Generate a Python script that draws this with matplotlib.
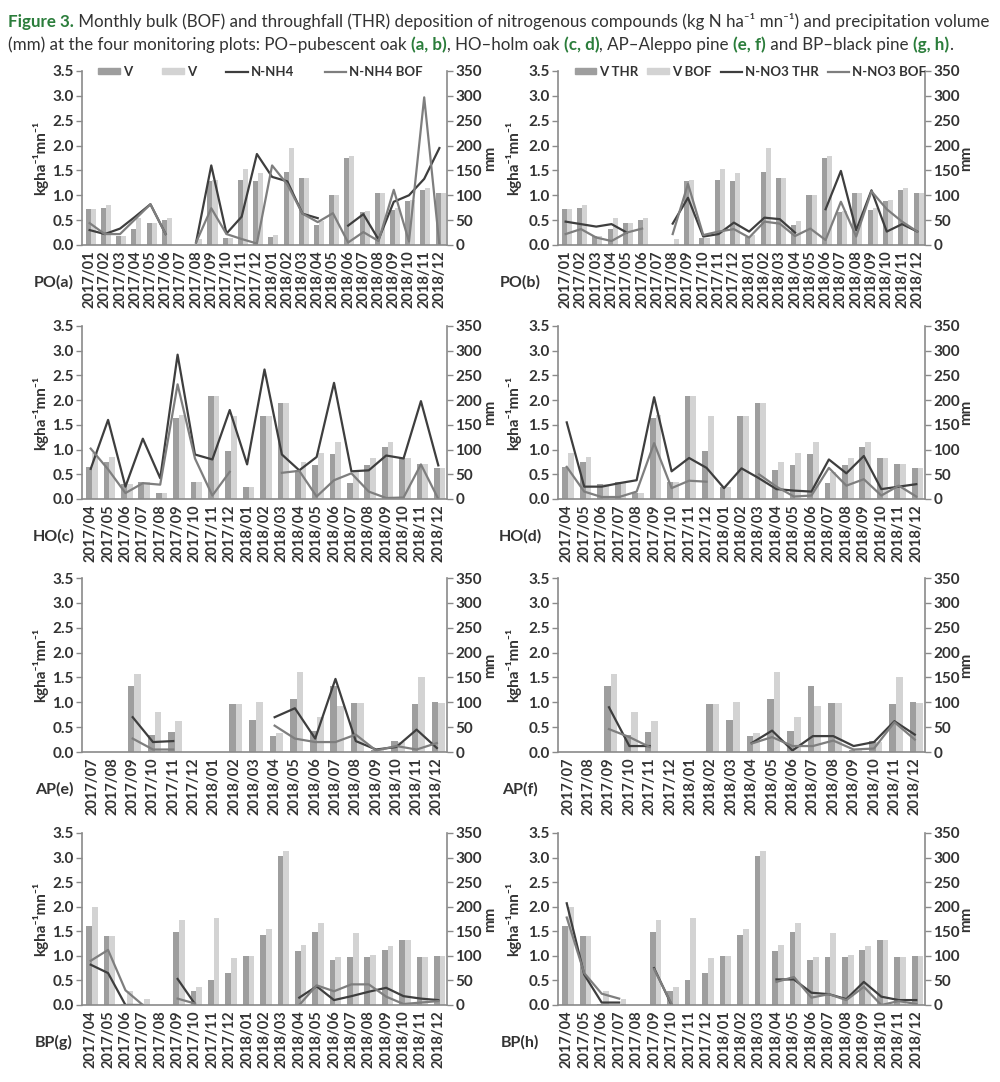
import numpy as np
import matplotlib
matplotlib.use("Agg")
import matplotlib.pyplot as plt
from matplotlib.patches import Patch
from matplotlib.lines import Line2D

nan = np.nan

# Months (tick labels)
months_po = [f"{y}/{m:02d}" for y in (2017, 2018) for m in range(1, 13)]
months_ho = months_po[3:]
months_ap = months_po[6:]
months_bp = months_po[3:]

# Precipitation volume (mm) - THR and BOF
po_v_thr = [72, 74, 18, 32, 45, 50, nan, nan, 129, 15, 130, 128, 17, 146, 135, 41, 101, 176, 66, 104, 70, 89, 110, 104]
po_v_bof = [72, 80, 18, 55, 45, 54, nan, 12, 130, 15, 153, 145, 20, 195, 135, 49, 101, 180, 68, 104, 75, 91, 115, 104]
ho_v_thr = [65, 75, 31, 34, 13, 164, 35, 209, 97, 24, 168, 195, 58, 68, 92, 32, 69, 106, 82, 71, 62]
ho_v_bof = [93, 84, 31, 34, 13, 170, 35, 209, 167, 24, 168, 195, 75, 94, 115, 55, 83, 115, 82, 71, 62]
ap_v_thr = [nan, nan, 132, 35, 40, nan, nan, 97, 65, 33, 106, 43, 132, 99, 5, 22, 96, 100]
ap_v_bof = [nan, nan, 156, 81, 62, nan, nan, 97, 100, 38, 160, 70, 92, 99, 5, 20, 150, 98]
bp_v_thr = [161, 140, 3, 0, nan, 148, 28, 51, 65, 99, 143, 303, 110, 148, 92, 97, 97, 112, 133, 97, 99]
bp_v_bof = [199, 140, 28, 13, nan, 173, 36, 177, 95, 99, 155, 314, 123, 166, 98, 147, 101, 120, 133, 98, 99]

# Deposition (kg N ha-1 mn-1)
po_nh4_thr = [0.30, 0.22, 0.33, 0.57, 0.82, 0.22, nan, 0.05, 1.60, 0.23, 0.57, 1.83, 1.37, 1.28, 0.63, 0.54, nan, 0.39, 0.62, 0.11, 0.87, 1.00, 1.33, 1.95]
po_nh4_bof = [0.44, 0.22, 0.22, 0.52, 0.82, 0.22, nan, 0.05, 0.74, 0.22, 0.12, 0.03, 1.60, 1.22, 0.63, 0.46, 0.64, 0.05, 0.26, 0.08, 1.11, 0.07, 2.97, 0.00]
po_no3_thr = [0.47, 0.42, 0.37, 0.42, 0.25, nan, nan, 0.43, 0.95, 0.17, 0.22, 0.45, 0.27, 0.55, 0.52, 0.25, nan, 0.72, 1.49, 0.30, 1.10, 0.27, 0.42, 0.27]
po_no3_bof = [0.22, 0.32, 0.15, 0.08, 0.25, 0.33, nan, 0.22, 1.23, 0.20, 0.27, 0.32, 0.15, 0.47, 0.43, 0.18, 0.33, 0.10, 0.87, 0.17, 1.08, 0.72, 0.47, 0.27]
ho_nh4_thr = [0.61, 1.60, 0.25, 1.22, 0.42, 2.92, 0.90, 0.80, 1.80, 0.70, 2.62, 0.90, 0.58, 0.85, 2.35, 0.56, 0.58, 0.88, 0.82, 1.98, 0.68]
ho_nh4_bof = [1.02, 0.60, 0.12, 0.32, 0.29, 2.32, 0.82, 0.07, 0.55, nan, nan, 0.53, 0.57, 0.05, 0.38, 0.52, 0.15, 0.02, 0.03, 0.70, 0.00]
ho_no3_thr = [1.55, 0.25, 0.25, 0.32, 0.38, 2.06, 0.56, 0.83, 0.63, 0.22, 0.62, 0.42, 0.20, 0.17, 0.15, 0.80, 0.52, 0.87, 0.20, 0.25, 0.30]
ho_no3_bof = [0.65, 0.15, 0.04, 0.04, 0.15, 1.13, 0.22, 0.37, 0.35, nan, nan, 0.50, 0.25, 0.05, 0.07, 0.63, 0.27, 0.40, 0.07, 0.27, 0.05]
ap_nh4_thr = [nan, nan, 0.70, 0.20, 0.22, nan, nan, nan, nan, 0.70, 0.88, 0.27, 1.47, 0.22, 0.05, 0.10, 0.45, 0.08]
ap_nh4_bof = [nan, nan, 0.27, 0.05, 0.05, nan, nan, nan, nan, 0.53, 0.27, 0.20, 0.20, 0.35, 0.03, 0.12, 0.05, 0.18]
ap_no3_thr = [nan, nan, 0.90, 0.12, 0.12, nan, nan, nan, nan, 0.18, 0.43, 0.03, 0.32, 0.32, 0.12, 0.20, 0.62, 0.35]
ap_no3_bof = [nan, nan, 0.46, 0.30, 0.10, nan, nan, nan, nan, 0.17, 0.30, 0.12, 0.12, 0.23, 0.05, 0.07, 0.60, 0.25]
bp_nh4_thr = [0.82, 0.65, 0.00, 0.00, nan, 0.53, 0.02, nan, nan, nan, nan, nan, 0.15, 0.38, 0.10, 0.18, 0.27, 0.35, 0.18, 0.13, 0.10]
bp_nh4_bof = [0.90, 1.12, 0.30, 0.00, nan, 0.13, 0.03, nan, nan, nan, nan, nan, 0.00, 0.40, 0.28, 0.42, 0.42, 0.17, 0.02, 0.05, 0.08]
bp_no3_thr = [2.07, 0.62, 0.05, 0.05, nan, 0.75, 0.00, nan, nan, nan, nan, nan, 0.52, 0.52, 0.25, 0.22, 0.12, 0.47, 0.17, 0.10, 0.10]
bp_no3_bof = [1.78, 0.65, 0.23, 0.13, nan, 0.73, 0.02, nan, nan, nan, nan, nan, 0.47, 0.57, 0.15, 0.22, 0.10, 0.37, 0.00, 0.08, 0.02]

# colours
c_bar_thr = "#9e9e9e"
c_bar_bof = "#d3d3d3"
c_line_thr = "#3e3e3e"
c_line_bof = "#7e7e7e"
c_axis = "#8a8a8a"
c_text = "#333333"
green = "#2b7d3b"
FONT = ["Lato", "DejaVu Sans"]

plt.rcParams["font.family"] = FONT

fig = plt.figure(figsize=(10, 10.82), dpi=100)
W, H = 1000, 1082

panels = [
    (months_po, po_v_thr, po_v_bof, po_nh4_thr, po_nh4_bof, "PO(a)", ["V", "V", "N-NH4", "N-NH4 BOF"]),
    (months_po, po_v_thr, po_v_bof, po_no3_thr, po_no3_bof, "PO(b)", ["V THR", "V BOF", "N-NO3 THR", "N-NO3 BOF"]),
    (months_ho, ho_v_thr, ho_v_bof, ho_nh4_thr, ho_nh4_bof, "HO(c)", None),
    (months_ho, ho_v_thr, ho_v_bof, ho_no3_thr, ho_no3_bof, "HO(d)", None),
    (months_ap, ap_v_thr, ap_v_bof, ap_nh4_thr, ap_nh4_bof, "AP(e)", None),
    (months_ap, ap_v_thr, ap_v_bof, ap_no3_thr, ap_no3_bof, "AP(f)", None),
    (months_bp, bp_v_thr, bp_v_bof, bp_nh4_thr, bp_nh4_bof, "BP(g)", None),
    (months_bp, bp_v_thr, bp_v_bof, bp_no3_thr, bp_no3_bof, "BP(h)", None),
]

col_left = [82, 558]
col_right = [447, 925]
row_top = [71, 326, 578, 833]
row_bot = [245, 499, 752, 1005]
label_x = [54, 520]
ylab_x = [40, 513]
mm_x = [490, 966]
leg_spacing = [2.3, 0.7]

for k, (months, vthr, vbof, lthr, lbof, name, leg) in enumerate(panels):
    r, c = divmod(k, 2)
    rect = [col_left[c] / W, 1 - row_bot[r] / H,
            (col_right[c] - col_left[c]) / W, (row_bot[r] - row_top[r]) / H]
    ax = fig.add_axes(rect)
    axr = ax.twinx()
    ax.set_zorder(axr.get_zorder() + 1)
    ax.patch.set_visible(False)

    x = np.arange(len(months))
    w = 0.33
    axr.bar(x - w / 2 + 0.08, np.nan_to_num(vthr), w, color=c_bar_thr, zorder=2)
    axr.bar(x + w / 2 + 0.08, np.nan_to_num(vbof), w, color=c_bar_bof, zorder=2)
    ax.plot(x, lthr, color=c_line_thr, lw=1.6)
    ax.plot(x, lbof, color=c_line_bof, lw=1.6)

    ax.set_xlim(-0.5, len(months) - 0.5)
    ax.set_ylim(0, 3.5)
    axr.set_ylim(0, 350)
    ax.set_yticks(np.arange(0, 3.51, 0.5))
    ax.set_yticklabels([f"{v:.1f}" for v in np.arange(0, 3.51, 0.5)])
    axr.set_yticks(np.arange(0, 351, 50))
    ax.set_xticks(x)
    ax.set_xticklabels(months, rotation=90)

    for a in (ax, axr):
        a.spines["top"].set_visible(False)
        for s in a.spines.values():
            s.set_color(c_axis)
            s.set_linewidth(1.2)
    ax.spines["right"].set_visible(False)
    axr.spines["left"].set_visible(False)
    axr.spines["bottom"].set_visible(False)

    ax.tick_params(axis="y", length=4, width=1, color=c_axis, labelsize=11, labelcolor=c_text, pad=2)
    ax.tick_params(axis="x", length=0, labelsize=10.5, labelcolor=c_text, pad=4)
    axr.tick_params(axis="y", length=4, width=1, color=c_axis, labelsize=11, labelcolor=c_text, pad=2)
    for t in ax.get_xticklabels() + ax.get_yticklabels() + axr.get_yticklabels():
        t.set_fontweight("bold")

    if leg:
        handles = [Patch(color=c_bar_thr), Patch(color=c_bar_bof),
                   Line2D([], [], color=c_line_thr, lw=1.6), Line2D([], [], color=c_line_bof, lw=1.6)]
        ax.legend(handles, leg, ncol=4, loc="upper left", bbox_to_anchor=(0.045, 1.03),
                  frameon=False, handlelength=1.6, handleheight=0.35, columnspacing=leg_spacing[c],
                  handletextpad=0.25, borderaxespad=0, borderpad=0,
                  prop={"weight": "bold", "size": 9.5}, labelcolor=c_text)

    yc = 1 - (row_top[r] + row_bot[r]) / 2 / H
    fig.text(label_x[c] / W, 1 - (row_bot[r] + 37) / H, name, ha="center", va="center",
             fontsize=11.5, fontweight="bold", color=c_text)
    fig.text(ylab_x[c] / W, yc, "kgha\u207b\u00b9mn\u207b\u00b9", rotation=90, ha="center", va="center",
             fontsize=11, fontweight="bold", color=c_text)
    fig.text(mm_x[c] / W, yc, "mm", rotation=90, ha="center", va="center",
             fontsize=11, fontweight="bold", color=c_text)

# title with coloured runs
line1 = [("Figure 3.", green, "bold"),
         (" Monthly bulk (BOF) and throughfall (THR) deposition of nitrogenous compounds (kg N ha\u207b\u00b9 mn\u207b\u00b9) and precipitation volume", c_text, "normal")]
line2 = [("(mm) at the four monitoring plots: PO\u2013pubescent oak ", c_text, "normal"), ("(a, b)", green, "bold"),
         (", HO\u2013holm oak ", c_text, "normal"), ("(c, d)", green, "bold"),
         (", AP\u2013Aleppo pine ", c_text, "normal"), ("(e, f)", green, "bold"),
         (" and BP\u2013black pine ", c_text, "normal"), ("(g, h)", green, "bold"), (".", c_text, "normal")]

renderer = fig.canvas.get_renderer()


def run_width(runs, size):
    total = 0
    for s, col, wt in runs:
        t = fig.text(0, 0, s, fontsize=size, fontweight=wt)
        total += t.get_window_extent(renderer=renderer).width
        t.remove()
    return total


size = 10 * 985 / run_width(line1, 10)


def write_runs(runs, x, y):
    for s, col, wt in runs:
        t = fig.text(x, y, s, fontsize=size, fontweight=wt, color=col, ha="left", va="baseline")
        x += t.get_window_extent(renderer=renderer).width / W


write_runs(line1, 8 / W, 1 - 27 / H)
write_runs(line2, 8 / W, 1 - 50 / H)

fig.savefig("out.png", dpi=100)
